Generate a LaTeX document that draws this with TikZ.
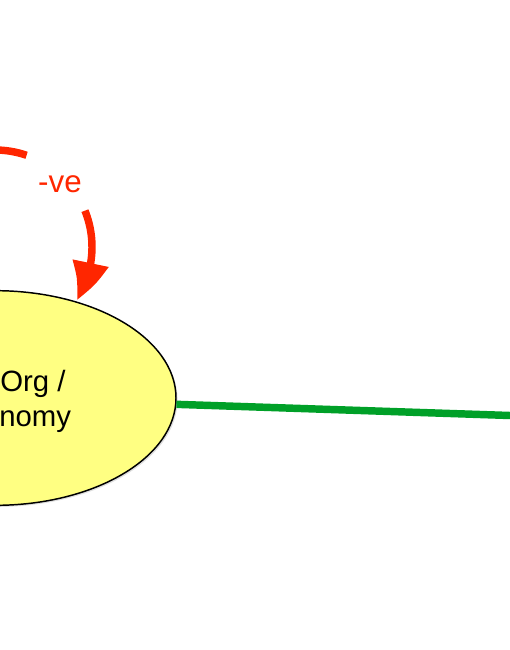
\documentclass[tikz,border=0pt]{standalone}
\usepackage{fontspec}
\setmainfont{Liberation Sans}
\usetikzlibrary{shapes.geometric,arrows.meta,bending,shadows,calc}
\definecolor{loopred}{RGB}{255,38,0}
\definecolor{linkgreen}{RGB}{0,160,40}
\definecolor{nodeyellow}{RGB}{255,255,130}
\tikzset{
  bubble/.style={ellipse,draw=black,line width=1.1pt,fill=nodeyellow,
    minimum width=271.5pt,minimum height=161pt,inner sep=0pt,
    drop shadow={shadow xshift=1.2pt,shadow yshift=-1.2pt,opacity=0.25}},
  bubbletext/.style={font=\fontsize{22}{26}\selectfont,inner sep=0pt,text=black},
  looparrow/.style={draw=loopred,line width=5.6pt},
  looplabel/.style={font=\fontsize{23.5}{28}\selectfont,text=loopred,inner sep=0pt},
  link/.style={draw=linkgreen,line width=5.6pt}
}
\begin{document}
\begin{tikzpicture}[x=0.75pt,y=-0.75pt]
\useasboundingbox (0,0) rectangle (510,650);
\clip (0,0) rectangle (510,650);
% node
\node[bubble] (e) at (-5,398) {};
\node[bubbletext,anchor=base west] (t1) at (0,391) {Org /};
\node[bubbletext,anchor=base west] (t2) at (-1,426) {nomy};
% green connector
\coordinate (far) at (525,416);
\draw[link] (e.-2.3) -- (far);
% red loop
\coordinate (lc) at (-5,247);
\coordinate (lstart) at ($(lc)+(-110:97)$);
\coordinate (lmid) at ($(lc)+(-22:97)$);
\draw[looparrow] (lstart) arc[start angle=-110,end angle=-71,radius=97];
\node[looplabel] (lbl) at (60,184) {-ve};
\draw[looparrow,-{Triangle[length=30pt,width=26pt,bend]}] (lmid) arc[start angle=-22,end angle=33,radius=97];
\end{tikzpicture}
\end{document}
